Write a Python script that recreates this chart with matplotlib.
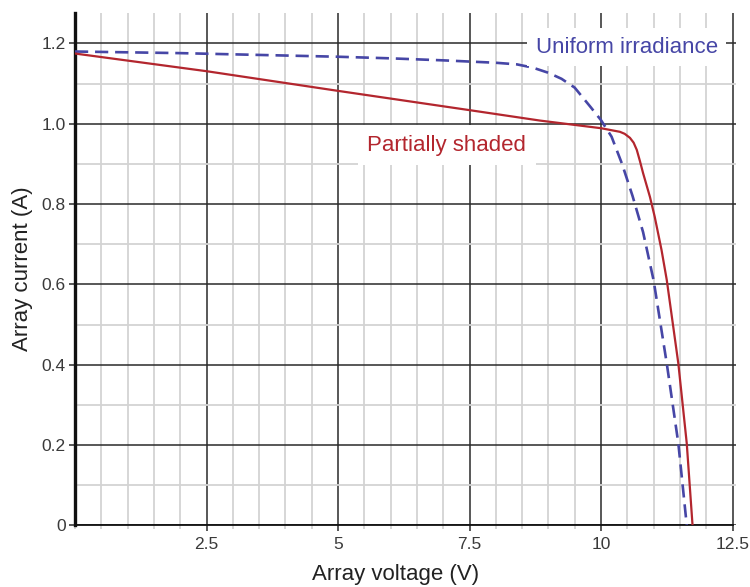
import matplotlib
matplotlib.use("Agg")
import matplotlib.pyplot as plt
from matplotlib.ticker import MultipleLocator

plt.rcParams['font.family'] = ['Liberation Sans', 'DejaVu Sans']

# Data
uniform_v = [0, 1, 2, 3, 4, 5, 6, 7, 8, 8.4, 8.7, 9.0, 9.25, 9.5, 9.8, 10.0, 10.2,
             10.4, 10.6, 10.8, 11.0, 11.25, 11.47, 11.63]
uniform_i = [1.18, 1.178, 1.176, 1.173, 1.17, 1.167, 1.163, 1.158, 1.152, 1.148,
             1.14, 1.127, 1.112, 1.09, 1.042, 1.009, 0.968, 0.9, 0.82, 0.73, 0.61,
             0.403, 0.204, 0.0]

shaded_v = [0, 2.5, 5, 7.5, 8.84, 10, 10.36, 10.45, 10.55, 10.62, 10.68, 10.74,
            10.8, 10.93, 11.02, 11.15, 11.25, 11.47, 11.63, 11.74]
shaded_i = [1.175, 1.131, 1.082, 1.034, 1.008, 0.989, 0.98, 0.975, 0.965, 0.953,
            0.935, 0.907, 0.877, 0.818, 0.769, 0.686, 0.611, 0.403, 0.204, 0.0]

x_ticks = [2.5, 5, 7.5, 10, 12.5]
x_tick_labels = ["2.5", "5", "7.5", "10", "12.5"]
y_ticks = [0, 0.2, 0.4, 0.6, 0.8, 1.0, 1.2]
y_tick_labels = ["0", "0.2", "0.4", "0.6", "0.8", "1.0", "1.2"]

uniform_label = "Uniform irradiance"
shaded_label = "Partially shaded"
x_label = "Array voltage (V)"
y_label = "Array current (A)"

blue = "#4646a6"
red = "#b3262e"

fig = plt.figure(figsize=(7.5, 5.87), dpi=100)
ax = fig.add_axes([0.1, 0.1051, 0.8809, 0.8728])

ax.set_xlim(0, 12.56)
ax.set_ylim(0, 1.276)

ax.xaxis.set_major_locator(MultipleLocator(2.5))
ax.xaxis.set_minor_locator(MultipleLocator(0.5))
ax.yaxis.set_major_locator(MultipleLocator(0.2))
ax.yaxis.set_minor_locator(MultipleLocator(0.1))

ax.grid(which='minor', color='#d3d3d3', linewidth=1.3, zorder=0)
ax.grid(which='major', color='#2a2a2a', linewidth=1.1, zorder=0.5)
ax.set_axisbelow(True)

ax.plot(uniform_v, uniform_i, color=blue, linewidth=1.9, dashes=(5.0, 2.6), zorder=3)
ax.plot(shaded_v, shaded_i, color=red, linewidth=1.6, zorder=3)

ax.set_xticks(x_ticks)
ax.set_xticklabels(x_tick_labels)
ax.set_yticks(y_ticks)
ax.set_yticklabels(y_tick_labels)

ax.tick_params(axis='both', which='major', labelsize=12.5, colors='#2a2a2a',
               labelcolor='#3a3a3a', length=4.5, width=1.1)
ax.tick_params(axis='x', which='major', pad=4)
ax.tick_params(axis='y', which='major', pad=2)
ax.tick_params(axis='x', which='minor', length=3, width=1.3, color='#d3d3d3')
ax.tick_params(axis='y', which='minor', length=0)

for s in ['top', 'right']:
    ax.spines[s].set_visible(False)
ax.spines['left'].set_linewidth(2.4)
ax.spines['left'].set_color('#111111')
ax.spines['bottom'].set_linewidth(1.3)
ax.spines['bottom'].set_color('#111111')
ax.spines['bottom'].set_bounds(0, 12.5)

ax.set_xlabel(x_label, fontsize=16, color='#222222')
ax.set_ylabel(y_label, fontsize=16, color='#222222')
ax.xaxis.set_label_coords(0.485, -0.075)
ax.yaxis.set_label_coords(-0.063, 0.5)

ax.text(10.49, 1.191, uniform_label, color=blue, fontsize=16, ha='center', va='center',
        bbox=dict(facecolor='white', edgecolor='none', pad=6), zorder=4)
ax.text(7.07, 0.947, shaded_label, color=red, fontsize=16, ha='center', va='center',
        bbox=dict(facecolor='white', edgecolor='none', pad=7), zorder=4)

fig.savefig("out.png", dpi=100)
